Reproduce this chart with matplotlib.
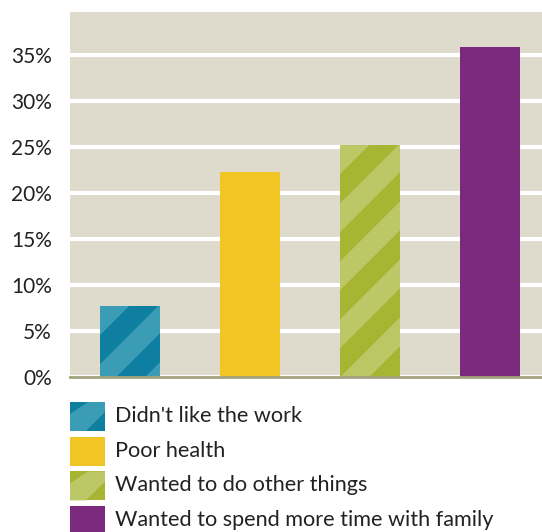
import matplotlib.pyplot as plt
from matplotlib.patches import Polygon, Rectangle
import numpy as np

categories = ["Didn't like the work", "Poor health",
              "Wanted to do other things", "Wanted to spend more time with family"]
values = [7.7, 22.3, 25.2, 35.9]
colors = ["#0f7fa1", "#f1c524", "#a7b532", "#7b2a7d"]
stripe_colors = ["#3b9cb6", None, "#bcc765", None]
yticks = [0, 5, 10, 15, 20, 25, 30, 35]

plt.rcParams['font.family'] = ['Lato', 'DejaVu Sans']

W, H = 542, 532
fig = plt.figure(figsize=(W / 100, H / 100), dpi=100)
ax = fig.add_axes([70 / W, 1 - 377 / H, 472 / W, 365 / H])
ax.set_facecolor("#dedbcc")

x = np.arange(len(categories))
bars = ax.bar(x, values, width=0.5, color=colors, zorder=3)
ax.set_xlim(-0.5, 3.433)
ax.set_ylim(0, 39.7)
ax.set_yticks(yticks)
ax.set_yticklabels([f"{t}%" for t in yticks], fontsize=15, color="#222222")
ax.set_xticks([])
ax.grid(axis='y', color='white', linewidth=3, zorder=1)
ax.tick_params(axis='y', length=0, pad=13)
for s in ["top", "right", "left"]:
    ax.spines[s].set_visible(False)
ax.spines["bottom"].set_color("#a3a27f")
ax.spines["bottom"].set_linewidth(2)
ax.spines["bottom"].set_zorder(4)


def stripes(bar, light, period=58):
    # diagonal light bands clipped to the bar, built in pixel space
    x0, y0 = ax.transData.transform((bar.get_x(), 0))
    x1, y1 = ax.transData.transform((bar.get_x() + bar.get_width(), bar.get_height()))
    h = y1 - y0
    for k in range(-4, 6):
        s = x0 + k * period - h
        pts = [(s, y0), (s + period / 2, y0), (s + period / 2 + h + 80, y0 + h + 80),
               (s + h + 80, y0 + h + 80)]
        p = Polygon(pts, closed=True, transform=None, facecolor=light,
                    edgecolor="none", zorder=3.5)
        ax.add_patch(p)
        p.set_clip_path(bar)


for b, lc in zip(bars, stripe_colors):
    if lc:
        stripes(b, lc)

# legend
for i, (cat, c, lc) in enumerate(zip(categories, colors, stripe_colors)):
    base = 422 + 34.7 * i
    top = base - 20
    sq = Rectangle((70 / W, 1 - (top + 29) / H), 35 / W, 29 / H,
                   transform=fig.transFigure, facecolor=c, edgecolor="none")
    fig.patches.append(sq)
    if lc:
        tri = Polygon([(70 / W, 1 - (top + 29) / H), (70 / W, 1 - (top + 12) / H),
                       (88 / W, 1 - top / H), (105 / W, 1 - top / H),
                       (105 / W, 1 - (top + 10) / H), (86 / W, 1 - (top + 29) / H)],
                      closed=True, transform=fig.transFigure, facecolor=lc,
                      edgecolor="none")
        fig.patches.append(tri)
    fig.text(115 / W, 1 - base / H, cat, fontsize=15.6, color="#222222", va="baseline")

fig.savefig("out.png", dpi=100)
